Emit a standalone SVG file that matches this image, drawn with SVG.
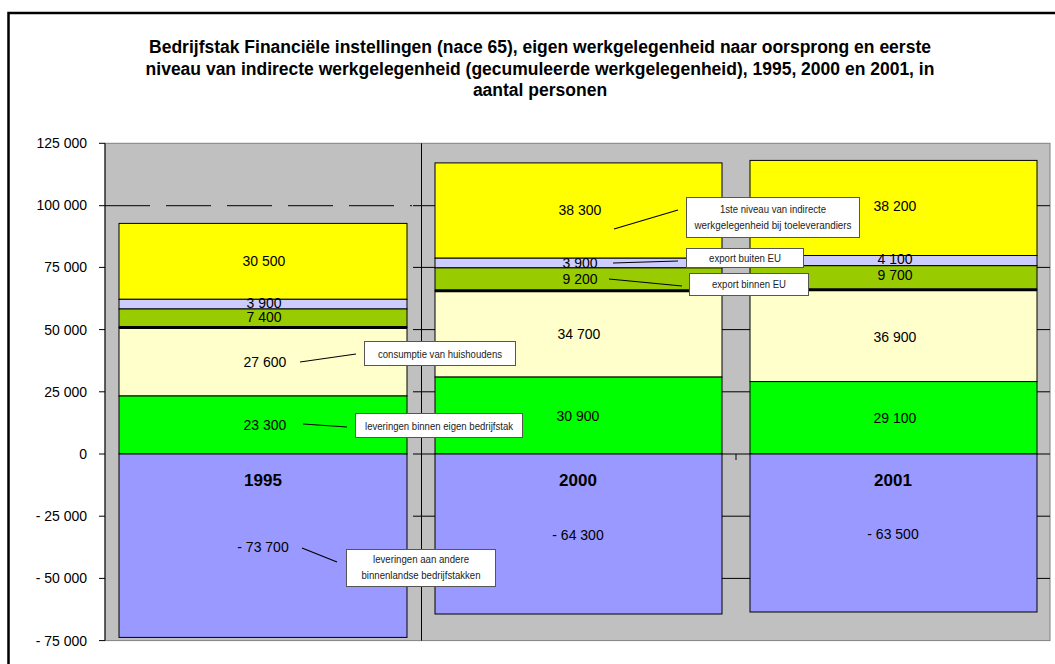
<svg xmlns="http://www.w3.org/2000/svg" width="1055" height="664" viewBox="0 0 1055 664">
<style>
.title{font-family:'Liberation Sans',Arial,sans-serif;font-weight:bold;font-size:17.5px;fill:#000;text-anchor:middle}
.ax{font-family:'Liberation Sans',Arial,sans-serif;font-size:14px;fill:#000;text-anchor:end}
.val{font-family:'Liberation Sans',Arial,sans-serif;font-size:14px;fill:#000;text-anchor:middle}
.yr{font-family:'Liberation Sans',Arial,sans-serif;font-size:17px;font-weight:bold;fill:#000;text-anchor:middle}
.note{font-family:'Liberation Sans',Arial,sans-serif;font-size:11px;fill:#222;text-anchor:middle}
.nbox{fill:#fff;stroke:#555;stroke-width:1}
.seg{stroke:#000;stroke-width:1}
.grid{stroke:#000;stroke-width:1}
.conn{stroke:#000;stroke-width:1.2;fill:none}
</style>
<rect x="0" y="0" width="1055" height="664" fill="#fff"/>
<rect x="8.5" y="13" width="1070" height="680" fill="none" stroke="#000" stroke-width="2.5"/>
<g id="title">
<text class="title" x="540" y="53">Bedrijfstak Financiële instellingen (nace 65), eigen werkgelegenheid naar oorsprong en eerste</text>
<text class="title" x="540" y="74.5">niveau van indirecte werkgelegenheid (gecumuleerde werkgelegenheid), 1995, 2000 en 2001, in</text>
<text class="title" x="540" y="96">aantal personen</text>
</g>
<g id="plot">
<rect x="105" y="143.3" width="945" height="497.3" fill="#c0c0c0" stroke="#808080" stroke-width="1"/>
<line x1="105" y1="205.7" x2="412" y2="205.7" stroke="#000" stroke-width="1" stroke-dasharray="45 16"/>
<g class="grid">
<line x1="413" y1="205.7" x2="1050" y2="205.7"/>
<line x1="413" y1="267.4" x2="1050" y2="267.4"/>
<line x1="413" y1="329.6" x2="1050" y2="329.6"/>
<line x1="413" y1="391.8" x2="1050" y2="391.8"/>
<line x1="413" y1="454" x2="1050" y2="454"/>
<line x1="413" y1="516.2" x2="1050" y2="516.2"/>
<line x1="413" y1="578.4" x2="1050" y2="578.4"/>
</g>
<line x1="421.5" y1="143.3" x2="421.5" y2="640.6" stroke="#000" stroke-width="1"/>
</g>
<g id="axis">
<line x1="105" y1="143.3" x2="105" y2="640.6" stroke="#000" stroke-width="1"/>
<g stroke="#000" stroke-width="1">
<line x1="99" y1="143.3" x2="105" y2="143.3"/>
<line x1="99" y1="205.7" x2="105" y2="205.7"/>
<line x1="99" y1="267.4" x2="105" y2="267.4"/>
<line x1="99" y1="329.6" x2="105" y2="329.6"/>
<line x1="99" y1="391.8" x2="105" y2="391.8"/>
<line x1="99" y1="454" x2="105" y2="454"/>
<line x1="99" y1="516.2" x2="105" y2="516.2"/>
<line x1="99" y1="578.4" x2="105" y2="578.4"/>
<line x1="99" y1="640.6" x2="105" y2="640.6"/>
</g>
<text class="ax" x="87" y="148">125 000</text>
<text class="ax" x="87" y="210">100 000</text>
<text class="ax" x="87" y="272">75 000</text>
<text class="ax" x="87" y="334.5">50 000</text>
<text class="ax" x="87" y="396.5">25 000</text>
<text class="ax" x="87" y="459">0</text>
<text class="ax" x="87" y="521">- 25 000</text>
<text class="ax" x="87" y="583">- 50 000</text>
<text class="ax" x="87" y="645.5">- 75 000</text>
</g>
<g id="bar1995">
<rect class="seg" x="119" y="223.4" width="288" height="75.9" fill="#ffff00"/>
<rect class="seg" x="119" y="299.3" width="288" height="9.7" fill="#ccccff"/>
<rect class="seg" x="119" y="309" width="288" height="18.4" fill="#99cc00"/>
<rect class="seg" x="119" y="327.4" width="288" height="68.6" fill="#ffffcc"/>
<rect class="seg" x="119" y="396" width="288" height="58" fill="#00ff00"/>
<rect class="seg" x="119" y="454" width="288" height="183.4" fill="#9999ff"/>
<line x1="119" y1="327.4" x2="407" y2="327.4" stroke="#000" stroke-width="3"/>
<text class="val" x="264" y="266">30 500</text>
<text class="val" x="264" y="308">3 900</text>
<text class="val" x="264" y="322">7 400</text>
<text class="val" x="265" y="366.5">27 600</text>
<text class="val" x="265" y="430">23 300</text>
<text class="yr" x="263" y="486">1995</text>
<text class="val" x="263" y="552">- 73 700</text>
</g>
<g id="bar2000">
<rect class="seg" x="435" y="162.9" width="287" height="95.3" fill="#ffff00"/>
<rect class="seg" x="435" y="258.2" width="287" height="9.7" fill="#ccccff"/>
<rect class="seg" x="435" y="267.9" width="287" height="22.9" fill="#99cc00"/>
<rect class="seg" x="435" y="290.8" width="287" height="86.3" fill="#ffffcc"/>
<rect class="seg" x="435" y="377.1" width="287" height="76.9" fill="#00ff00"/>
<rect class="seg" x="435" y="454" width="287" height="160" fill="#9999ff"/>
<line x1="435" y1="290.8" x2="722" y2="290.8" stroke="#000" stroke-width="3"/>
<text class="val" x="580" y="215">38 300</text>
<text class="val" x="580" y="268">3 900</text>
<text class="val" x="580" y="284">9 200</text>
<text class="val" x="579" y="339">34 700</text>
<text class="val" x="578" y="421">30 900</text>
<text class="yr" x="578" y="486">2000</text>
<text class="val" x="578" y="540">- 64 300</text>
</g>
<g id="bar2001">
<rect class="seg" x="750" y="160.4" width="287" height="95.1" fill="#ffff00"/>
<rect class="seg" x="750" y="255.5" width="287" height="10.2" fill="#ccccff"/>
<rect class="seg" x="750" y="265.7" width="287" height="24.1" fill="#99cc00"/>
<rect class="seg" x="750" y="289.8" width="287" height="91.8" fill="#ffffcc"/>
<rect class="seg" x="750" y="381.6" width="287" height="72.4" fill="#00ff00"/>
<rect class="seg" x="750" y="454" width="287" height="158" fill="#9999ff"/>
<line x1="750" y1="289.8" x2="1037" y2="289.8" stroke="#000" stroke-width="3"/>
<text class="val" x="895" y="211">38 200</text>
<text class="val" x="895" y="264">4 100</text>
<text class="val" x="895" y="280">9 700</text>
<text class="val" x="895" y="342">36 900</text>
<text class="val" x="895" y="423">29 100</text>
<text class="yr" x="893" y="486">2001</text>
<text class="val" x="893" y="539">- 63 500</text>
</g>
<g id="cat-ticks" stroke="#000" stroke-width="1">
<line x1="736" y1="454" x2="736" y2="460"/>
</g>
<g id="connectors" class="conn">
<line x1="300" y1="362" x2="356" y2="354"/>
<line x1="303" y1="424" x2="347" y2="427"/>
<line x1="302" y1="548" x2="337" y2="562"/>
<line x1="614" y1="229" x2="678" y2="210"/>
<line x1="613" y1="263" x2="678" y2="261"/>
<line x1="609" y1="279" x2="682" y2="286"/>
</g>
<g id="note-consumptie">
<rect class="nbox" x="364.5" y="341.5" width="151" height="24"/>
<text class="note" x="440" y="357.5" textLength="124" lengthAdjust="spacingAndGlyphs">consumptie van huishoudens</text>
</g>
<g id="note-leveringen-eigen">
<rect class="nbox" x="355.5" y="413.5" width="167" height="24"/>
<text class="note" x="439" y="429.5" textLength="148" lengthAdjust="spacingAndGlyphs">leveringen binnen eigen bedrijfstak</text>
</g>
<g id="note-leveringen-andere">
<rect class="nbox" x="346.5" y="549.5" width="149" height="37"/>
<text class="note" x="421" y="563" textLength="96" lengthAdjust="spacingAndGlyphs">leveringen aan andere</text>
<text class="note" x="421" y="579" textLength="119" lengthAdjust="spacingAndGlyphs">binnenlandse bedrijfstakken</text>
</g>
<g id="note-1ste-niveau">
<rect class="nbox" x="686.5" y="197.5" width="173" height="40"/>
<text class="note" x="773" y="213" textLength="106" lengthAdjust="spacingAndGlyphs">1ste niveau van indirecte</text>
<text class="note" x="773" y="229" textLength="157" lengthAdjust="spacingAndGlyphs">werkgelegenheid bij toeleverandiers</text>
</g>
<g id="note-export-buiten">
<rect class="nbox" x="686.5" y="248.5" width="117" height="19"/>
<text class="note" x="745" y="261.5" textLength="72" lengthAdjust="spacingAndGlyphs">export buiten EU</text>
</g>
<g id="note-export-binnen">
<rect class="nbox" x="689.5" y="273.5" width="119" height="22"/>
<text class="note" x="749" y="288" textLength="74" lengthAdjust="spacingAndGlyphs">export binnen EU</text>
</g>
</svg>
